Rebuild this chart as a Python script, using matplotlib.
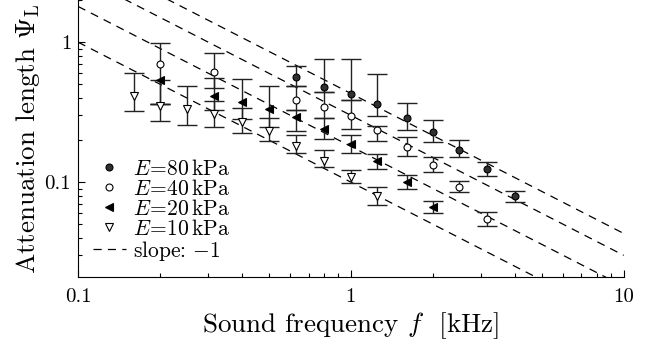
import numpy as np
import matplotlib
import matplotlib.pyplot as plt
from matplotlib.ticker import FixedLocator, FixedFormatter, LogLocator, NullFormatter

matplotlib.use('agg')

plt.rcParams['font.family'] = 'serif'
plt.rcParams['font.serif'] = ['cmr10']
plt.rcParams['mathtext.fontset'] = 'cm'
plt.rcParams['axes.formatter.use_mathtext'] = True

# attenuation length vs. third-octave frequency (kHz), value with lower / upper bound
f80 = [0.63, 0.8, 1.0, 1.25, 1.6, 2.0, 2.5, 3.15, 4.0]
psi80 = [0.562, 0.477, 0.425, 0.36, 0.287, 0.228, 0.169, 0.124, 0.0794]
lo80 = [0.485, 0.439, 0.385, 0.296, 0.235, 0.193, 0.151, 0.110, 0.072]
hi80 = [0.674, 0.756, 0.756, 0.591, 0.367, 0.277, 0.200, 0.139, 0.0864]

f40 = [0.2, 0.315, 0.63, 0.8, 1.0, 1.25, 1.6, 2.0, 2.5, 3.15]
psi40 = [0.696, 0.61, 0.385, 0.343, 0.296, 0.235, 0.178, 0.132, 0.092, 0.0546]
lo40 = [0.361, 0.469, 0.327, 0.287, 0.239, 0.196, 0.153, 0.118, 0.0848, 0.0485]
hi40 = [0.984, 0.835, 0.485, 0.439, 0.385, 0.251, 0.210, 0.151, 0.102, 0.061]

f20 = [0.2, 0.315, 0.4, 0.5, 0.63, 0.8, 1.0, 1.25, 1.6, 2.0]
psi20 = [0.535, 0.411, 0.373, 0.332, 0.291, 0.239, 0.187, 0.141, 0.100, 0.0662]
lo20 = [0.361, 0.327, 0.282, 0.247, 0.231, 0.203, 0.161, 0.124, 0.0891, 0.0601]
hi20 = [0.535, 0.553, 0.544, 0.485, 0.327, 0.287, 0.217, 0.159, 0.112, 0.073]

f10 = [0.16, 0.2, 0.25, 0.315, 0.4, 0.5, 0.63, 0.8, 1.0, 1.25]
psi10 = [0.411, 0.349, 0.332, 0.306, 0.268, 0.231, 0.181, 0.141, 0.109, 0.0794]
lo10 = [0.321, 0.273, 0.255, 0.247, 0.224, 0.196, 0.161, 0.128, 0.0987, 0.0684]
hi10 = [0.60, 0.361, 0.485, 0.379, 0.338, 0.287, 0.217, 0.169, 0.122, 0.092]

# prefactors of the psi = c / f guide lines
slope_c = [0.1, 0.18, 0.3, 0.43]

fig = plt.figure(figsize=(6.45, 3.45), dpi=100)
ax = fig.add_axes([0.121, 0.197, 0.846, 0.803])

series = [
    (f80, psi80, lo80, hi80, 'o', '#303030', 5.0, r'$E\!=\!80\,\mathrm{kPa}$'),
    (f40, psi40, lo40, hi40, 'o', 'white', 5.0, r'$E\!=\!40\,\mathrm{kPa}$'),
    (f20, psi20, lo20, hi20, '<', 'black', 6.0, r'$E\!=\!20\,\mathrm{kPa}$'),
    (f10, psi10, lo10, hi10, 'v', 'white', 6.0, r'$E\!=\!10\,\mathrm{kPa}$'),
]

handles = []
for f, psi, lo, hi, m, fc, ms, lab in series:
    f = np.array(f)
    psi = np.array(psi)
    yerr = [psi - np.array(lo), np.array(hi) - psi]
    ax.errorbar(f, psi, yerr=yerr, fmt='none', ecolor='#222222',
                elinewidth=1.0, capsize=7.5, capthick=1.0, zorder=2)
    h, = ax.plot(f, psi, m, mfc=fc, mec='black', mew=0.8, ms=ms,
                 linestyle='none', label=lab, zorder=3)
    handles.append(h)

fl = np.array([0.1, 10.0])
for c in slope_c:
    h, = ax.plot(fl, c / fl, '--', color='black', lw=0.9, dashes=(6.5, 5),
                 label=r'slope: $-1$', zorder=1)
handles.append(h)

ax.set_xscale('log')
ax.set_yscale('log')
ax.set_xlim(0.1, 10)
ax.set_ylim(0.021, 2.0)

ax.xaxis.set_major_locator(FixedLocator([0.1, 1, 10]))
ax.xaxis.set_major_formatter(FixedFormatter(['0.1', '1', '10']))
ax.yaxis.set_major_locator(FixedLocator([0.1, 1]))
ax.yaxis.set_major_formatter(FixedFormatter(['0.1', '1']))
ax.xaxis.set_minor_locator(LogLocator(base=10, subs=np.arange(2, 10)))
ax.yaxis.set_minor_locator(LogLocator(base=10, subs=np.arange(2, 10)))
ax.xaxis.set_minor_formatter(NullFormatter())
ax.yaxis.set_minor_formatter(NullFormatter())

ax.tick_params(which='both', direction='in', labelsize=15, width=0.8)
ax.tick_params(which='major', length=5)
ax.tick_params(axis='x', which='major', pad=8)
ax.tick_params(axis='y', which='major', pad=5)
ax.tick_params(which='minor', length=3)
ax.spines['top'].set_visible(False)
ax.spines['right'].set_visible(False)
for s in ['left', 'bottom']:
    ax.spines[s].set_linewidth(0.8)

ax.set_xlabel(r'Sound frequency $f$  [kHz]', fontsize=19.5, labelpad=3)
ax.set_ylabel(r'Attenuation length $\Psi_{\mathrm{L}}$', fontsize=19.5, labelpad=2)

ax.legend(handles=handles, loc='lower left', bbox_to_anchor=(-0.005, -0.01),
          frameon=False, fontsize=15.5, handlelength=1.55, handletextpad=0.35,
          labelspacing=0.0, borderpad=0.3, numpoints=1)

fig.savefig('out.png', dpi=100)
